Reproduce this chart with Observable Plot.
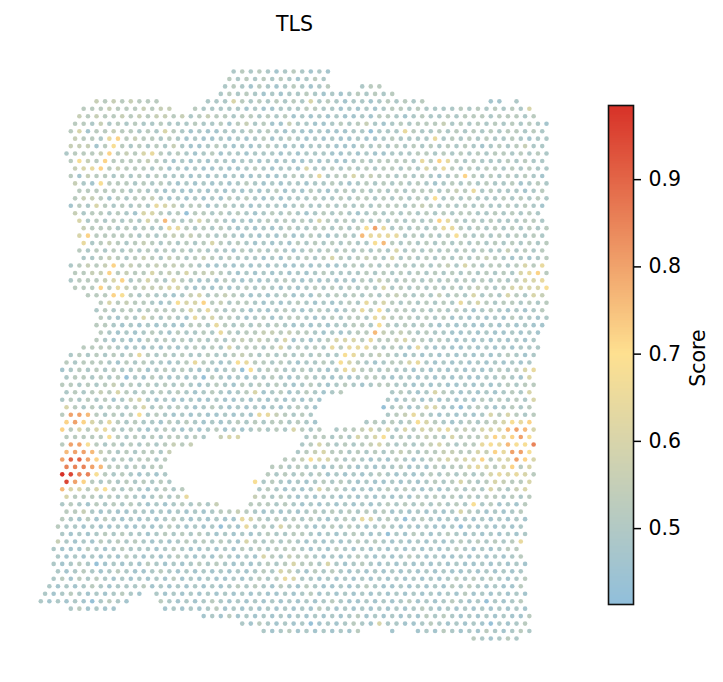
<!DOCTYPE html>
<html><head><meta charset="utf-8">
<style>html,body{margin:0;padding:0;background:#fff}#fig{position:relative;width:723px;height:682px;overflow:hidden}#fig svg{position:absolute;top:0}</style>
<script src="https://cdn.jsdelivr.net/npm/d3@7"></script>
<script src="https://cdn.jsdelivr.net/npm/@observablehq/plot@0.6"></script>
</head><body><div id="fig"></div>
<script>
const titleText = "TLS";
const scoreLabel = "Score";
const colorTicks = [0.5, 0.6, 0.7, 0.8, 0.9];
const scoreDomain = [0.413, 0.699, 0.985];
const scoreColors = ["#91bfdb", "#fee090", "#d73027"];
const levels = {a:.43,b:.465,c:.49,d:.52,e:.555,f:.60,g:.64,h:.68,i:.72,j:.76,k:.80,l:.85,m:.90,n:.95,o:.985};
// [grid row, first half-column in the row, score letters, one per spot]
const spotRows = [
[0,45,"cdcdcbcdcb cb"],
[1,44,"dcdcdcdcbc dc"],
[2,43,"cdcbdcbcdc bcd"],[2,75,"cdd"],
[3,42,"cdcdcbcbcc dcbcbcdcdc d"],
[4,13,"edededdd"],[4,39,"cccfdcdcdc dcfcdcbccb cdcdcd"],[4,105,"bb"],[4,111,"c"],
[5,10,"dddedddedee"],[5,36,"dcccccbcbb cccddccbcb cbcddcdccc cdcdcdcdcf"],
[6,9,"ededdedede edecdeddcd dcdcdbcbcb cbbcbddcbc dccdcdddcd ddcd"],
[7,8,"ddcecdcdcc dcccdccdbd ecdbbeccbb cdcdecbcdc dddecdcdcd cdcdcb"],
[8,7,"dfbddeddcd cfdcbcbbcc cdcdcbcbbc bbbccacccg dccdcdcdcd cddcdc"],
[9,8,"eddcgidedd cdcbcbbcbc bcdbcdcbcb cbbcbbcdcc ccgcdcdcdc cdcbcc"],
[10,7,"eeebdhdcdc dcecbbcdcb cbcdcbcbcc cbbbdcdcdc dcdcdcdcbc dcdecc"],
[11,6,"cdddeidedf gdcdcbcdbc cbcccbcbcc cbbcbcbbcc cddcdcdcdc ddcdcdc"],
[12,7,"dhedidddde dcbcbcbccb ccbcbcbbcb cbbcdcdddd cgdigdcdcc cdcdcc"],
[13,8,"efgidedddc dbcbcbbcbb cdcbccbfcc dcdcdcddcd cfdgdcdcdd cdcdcc"],
[14,7,"dbeddcdcdc dcccbcbcbc bbcbbcdcdg cddfdeddcd cdcbcdidcd cdcdcb"],
[15,8,"ecbhdddcdc dcbcbcbcbc dcbcbccbcc dcbcdcdcdc dcbcdcdcdc cdbcdc"],
[16,9,"ddddddcdcc bcbbcbcbcb cbcdbcbdcb cdcdcdcdcd ddcdedgcdc ccbcd"],
[17,8,"deedbdcdde cbcbcbcbdc dcbcbcccdc cdcddcdcdc dchcdcdccc dcdcdc"],
[18,7,"bdcfdcdcdc gfecddbcdc cbcccbcdcc dcdcdcdddc dedcdcdcdc cdcdcb"],
[19,8,"ecddcdcbff dcdaddcdcd cbcdcdcbcd cdcbcdcdcd cdcdcddccd cdcdc"],
[20,9,"fcdcdcdcfd jdcdfddcbc bcdcdcdcfd cdcdcdcdcd cdigdcdcdc ccddc"],
[21,10,"edddcdcdcc ggdcdcdcbc bcbcdccddc dcdhkgcdcd cdggdcdcdc dcdcd"],
[22,9,"fidddddcdc dededdcdcb cbcbdbcdcb cdcjggggcd cdcdhdcdcd cdcdc"],
[23,10,"gcdedcdedc dcdcdfdcdc bcbcbdcdcd cdcchjdcdc dcdcdcdcdc dcdcd"],
[24,9,"dcdcdcdcdc dcdcdcccbd cdcdcbcdcd cdcdcdcfcd cdcdcdcdcc ecdcd"],
[25,10,"ccdedcdedc edcdedcdcc cbcbdcdcdf dcdedcfcdc dcdcdcdedc bcbcd"],
[26,7,"cdedeidedd ededdcbbcb cbcbcbbcbc bbcdcdcdcd cdcdecfdcd dcdfdg"],
[27,8,"ddeeideddf dedfdeedcb cbcbcbcbcd ccccdcdcdc dcdcdcdcdc dcfgid"],
[28,7,"cdddeficdf dcfdcbcbdc bcbccdcbcb cbcbdcedcd dcdcdcdcdc dcdffg"],
[29,8,"dddidgedee effcbcbcbc dcdcbcbcdc dcdcdcfcdc dcdcdcdedc dffffh"],
[30,11,"dddihdcdcc bcefcdedcb cbcdbcbdcd cdcdcdedcd cecdcfcdcf dcfe"],
[31,14,"dfdeddcbch ffidecddcb cbcdcbcbcd cgdfdcdcdc dcgdfdcddc dcd"],
[32,13,"cdcddcdddd dfdgdcdcbc bcdcbcdcbc dgdhcddcdc dcdcbcdcbc bcd"],
[33,14,"dcbdcfdcdc bgdfddcbcd bcddcbcdcd dcgfdddcdc dbcbcbcbdc cbc"],
[34,13,"ddcbcbcbcb bddcgdcdcd cdcbcbcbcc ddchdcdcdc bcbcbbcbcb cbb"],
[35,14,"dcbcbcdcbd ccdcgdcdde ededdcbcbc ddjededcdc cbbcbcbbcb cb"],
[36,13,"dcbcbbdcdc dcdcdcdede dcfbcbcdff fdgddefddc dcbcbcbcbc bc"],
[37,10,"ddddcbcbcb cbcdcdcfcd dcdfcdcdcg dgggdcdcbg cbcbbcbcbc bccc"],
[38,7,"cdcdcdcdgd cdcdccdccd edcdcdcdcd cchgddedcb cbcbcbcbcb cdcbc"],
[39,6,"dcdddcbdcd ccbcdgdcbc hgddcdcbcc dchfdcbcdd fgcbcbcbcb cbcbc"],
[40,5,"bcdcdcdccd bcdcdcbcbc dahcddccdc cbcgfddcdc cbcbcbcbcb cdcdfg"],
[41,6,"cddcdcdacb dcbcbcadcb cbccdcbcdc cbcbcddcbc cbcbcbcbbc cdcbf"],
[42,5,"ddcdcdecdc dcdcdcbcdc bdcdcdcbcd cbcdcbcddc cbcbcbbcbc bcdcdd"],
[43,6,"cdcdedfdcd cdcdcbcdcb cdfbcdbcdc bcd"],[43,82,"cdcbcfdcbc bcbcdcf"],
[44,5,"cdcdcdbcef cbcbbcbbcb bcbcbcbcbc b"],[44,81,"cbcdbcbcbc bdcdcdcf"],
[45,6,"fdcdcddcdf cdcdcbcdcb cbcbcbcdcb"],[45,80,"acdbcffcba cdcbcdcd"],
[46,5,"dkkjdcdcdh cdcbcbcbbc bcbggedcdc"],[46,81,"cdegdcbcbc bcfdfdcd"],
[47,6,"ikifdgdcdc cbdcdcbcbc dcdcddcdcb"],[47,76,"cdcdcdhfdc bcdcdefhgi"],
[48,5,"idfdfgdcdc bcdcbcbcdb cbcdcdcfdcd"],[48,69,"cddefdfcfd fefgdedfff jkjf"],
[49,6,"dddddhdcdc dcddcdc"],[49,42,"eff"],[49,62,"cddcdcfdfh cdcdedcfdd dfigikh"],
[50,5,"dkkhdcdcdc dcdede"],[50,61,"cdfdcdcdef dcdcdefdcd dghgjhhl"],
[51,6,"jkkjedcdcd dce"],[51,60,"cdefddcdcd cdedcddeed dfeigkkh"],
[52,5,"kmmkidcdcd dcd"],[52,57,"ddehffdcdc bcbdcbcdef effidffkif"],
[53,6,"lllkjddcdc dd"],[53,54,"ddcdccbcdc bcbccdbcbd cddfgfdfid f"],
[54,5,"onllhdcdcb cbc"],[54,53,"dcdcdcdbcb cbcdcbcbcd cdcdcdfgfg fd"],
[55,6,"nkidcdcdcd cdc"],[55,50,"hcdcbcbcdc dcbcbbcbcb cdcdfdcdfe ddf"],
[56,5,"jffdfhdcdc bcdcd"],[56,51,"cdcbcbcfdd cbcbcdcdcb cbcdcdcfdc ef"],
[57,6,"fdddcdcdcb cdcdg"],[57,50,"edcdcbcbcc bcbcbcbcbd cdcdcdcddc dcd"],
[58,5,"cdcbdcdcdc bcbcdcdce"],[58,49,"dddcdcbcbc bcbcbcdcdc dcdcdchcdb cbd"],
[59,6,"ddecbcbbcc bcbcbcbcdd edcbcbcbcd cdcdcdcdbc bcbcbcfdcb cbcd"],
[60,5,"dcbdbdcbcb cbcdcbcbcb bgfdcdcdcd cbcdcgfcdc acdcbcbcbc bcbcb"],
[61,4,"dccbcbbcbb cbcdcbcbca cbgcdcfddc bcdcdcbcdc bcbcbbcacb cbcbc"],
[62,5,"cbcbcdcdcc bcdcdcdcbc bcbcdccddc bcbcdcbcac bdcbcdcbcb cbcbc"],
[63,4,"ecbcbdcdcd cbcbcdcdcd cbfdcdcdcb cbcbcdcdcb cbcbcbcdcd cdcdg"],
[64,3,"cbbbdcbcdc ccbcdcbbcb cbdcdcdddc bcbdcbcbcb cbcbcbcdcb cbcdd"],
[65,4,"cbcbcbcbdc bcbcdcbcbd cbcbfdcedd cbcbcdcbcb cdcbcbbcbc bcbcd"],
[66,3,"cbcdcabcbc bdcbcbcdcd cbcbcdcdfd dcfcbcdcbc bcbcbcbcbb cbcbcb"],
[67,4,"cbcdcbcdcb bcdcbcbcbc bcbcdcfecb dcdcbcbcbc bcbcbcbbcb cbcbc"],
[68,3,"cdbdcdcbcb cbcbdbcbcb bcbcdcdgfc cbcbcbcbcb cbcbcbcdcd cdcbcd"],
[69,2,"cbcbcdcbcc cdbcbcbcbc bcdcdcbdcb dcbbcbcdcb bcbcbcbdcd cbcbbd"],
[70,1,"cbcdcbcbcd cb"],[70,27,"cbcbcbcbcb cbcbbcbcdb cbcbcbcbcb cbcbcbdbcb cbcb"],
[71,0,"cbcbcbacdc b"],[71,28,"dcbcbcdcbc bcbcbcbcbc dcbbcbcbcd bcbcdcbcac bcd"],
[72,7,"cdbcbb"],[72,29,"bcbcbcdbcb cbcbcbcbdc bcbcbcbcbc dcbcbcbcbc bcb"],
[73,38,"bcbdbcbcbc bcbcbcbcdb cbcbcbdcdc bcbcbcbbd"],
[74,47,"cbdcbcbcab cbcdcbfccb bcdcbcbcba cbcd"],
[75,52,"cbcdbcbcbc bd"],[75,82,"b"],[75,88,"bcbdcbcbdc bcdc"],
[76,101,"dcbcdc"]
];

const spots = spotRows.flatMap(([row, start, letters]) =>
  [...letters.replace(/ /g, "")].map((ch, i) => ({row, col: start + 2 * i, score: levels[ch]})));
const barSteps = d3.range(scoreDomain[0], scoreDomain[2], 0.002);
const colorScale = {type: "linear", domain: scoreDomain, range: scoreColors};
const font = "'DejaVu Sans', sans-serif";
const fig = document.getElementById("fig");

const main = Plot.plot({
  width: 723, height: 682, margin: 0,
  style: {fontFamily: font, background: "transparent"},
  x: {domain: [0, 118], range: [40.3, 546], axis: null},
  y: {domain: [0, 76], range: [71, 638], axis: null},
  color: colorScale,
  marks: [
    Plot.dot(spots, {x: "col", y: "row", r: 2.3, fill: "score"}),
    Plot.text([titleText], {x: () => 59.2, y: () => -6.3, fontSize: 20.5, fill: "#000"})
  ]
});
main.style.left = "0px";
fig.appendChild(main);

const bar = Plot.plot({
  width: 133, height: 682,
  marginLeft: 18, marginRight: 90, marginTop: 105, marginBottom: 78,
  style: {fontFamily: font, fontSize: "20.5px", background: "transparent", color: "#000"},
  x: {domain: [0, 1], axis: null},
  y: {domain: [scoreDomain[0], scoreDomain[2]], axis: null},
  color: colorScale,
  marks: [
    Plot.rect(barSteps, {x1: () => 0, x2: () => 1, y1: d => d, y2: d => Math.min(d + 0.004, scoreDomain[2]), fill: d => d, shapeRendering: "crispEdges"}),
    Plot.frame({stroke: "#111", strokeWidth: 1.6}),
    Plot.axisY(colorTicks, {anchor: "right", tickSize: 7, tickPadding: 8, tickFormat: d3.format(".1f"), fontSize: 20.5, label: null, strokeWidth: 1.5}),
    Plot.text([scoreLabel], {frameAnchor: "right", dx: 65, dy: 3, rotate: -90, textAnchor: "middle", fontSize: 20.5, fill: "#000"})
  ]
});
bar.style.left = "590px";
fig.appendChild(bar);
</script></body></html>
